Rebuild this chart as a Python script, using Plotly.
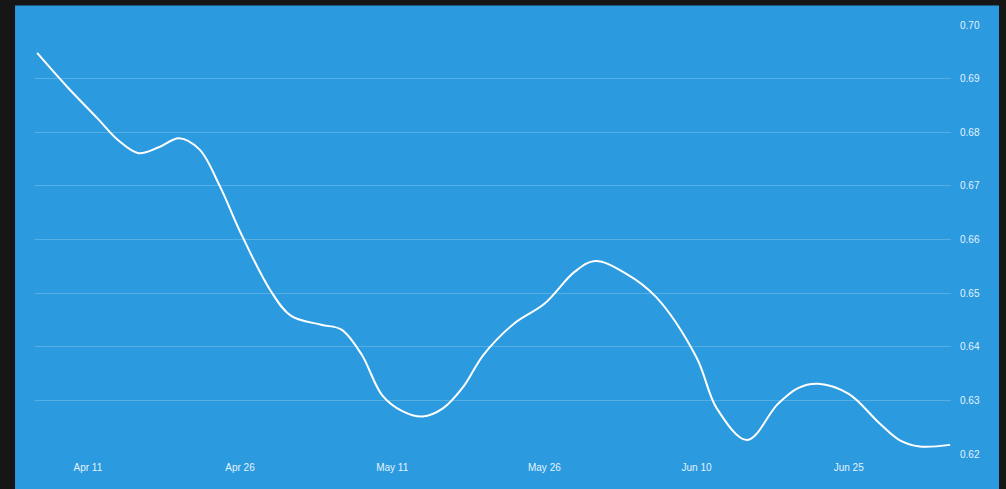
import plotly.graph_objects as go

dates = ["2024-04-06", "2024-04-09", "2024-04-12", "2024-04-14", "2024-04-16", "2024-04-18",
         "2024-04-20", "2024-04-22", "2024-04-24", "2024-04-26", "2024-04-29", "2024-05-01",
         "2024-05-04", "2024-05-06", "2024-05-08", "2024-05-10", "2024-05-12", "2024-05-14",
         "2024-05-16", "2024-05-18", "2024-05-20", "2024-05-23", "2024-05-26", "2024-05-29",
         "2024-05-31", "2024-06-03", "2024-06-06", "2024-06-10", "2024-06-12", "2024-06-15",
         "2024-06-18", "2024-06-20", "2024-06-22", "2024-06-25", "2024-06-28", "2024-06-30",
         "2024-07-02", "2024-07-05"]
values = [0.6948, 0.6884, 0.6825, 0.6785, 0.6761, 0.6772,
          0.6789, 0.6768, 0.6700, 0.6615, 0.6505, 0.6458,
          0.6441, 0.6432, 0.6385, 0.6310, 0.6280, 0.6270,
          0.6285, 0.6325, 0.6385, 0.6443, 0.6480, 0.6540,
          0.6560, 0.6537, 0.6493, 0.6380, 0.6285, 0.6226,
          0.6293, 0.6323, 0.6331, 0.6312, 0.6258, 0.6226,
          0.6214, 0.6217]

x_tick_vals = ["2024-04-11", "2024-04-26", "2024-05-11", "2024-05-26", "2024-06-10", "2024-06-25"]
x_tick_text = ["Apr 11", "Apr 26", "May 11", "May 26", "Jun 10", "Jun 25"]
y_tick_vals = [0.62, 0.63, 0.64, 0.65, 0.66, 0.67, 0.68, 0.69, 0.70]

BLUE = "#2b9ade"
LABEL = "#e4f2ff"
GRID = "rgba(255,255,255,0.20)"

fig = go.Figure()
fig.add_trace(go.Scatter(
    x=dates, y=values, mode="lines",
    line=dict(color="white", width=2, shape="spline", smoothing=1.0),
    hoverinfo="skip", showlegend=False,
))

fig.add_shape(type="rect", xref="paper", yref="paper",
              x0=-0.0218, x1=1.0524, y0=-0.12, y1=1.0456,
              fillcolor=BLUE, line=dict(width=0), layer="below")

fig.update_layout(
    width=1006, height=489,
    margin=dict(l=35, r=55, t=25, b=35),
    paper_bgcolor="#161616",
    plot_bgcolor=BLUE,
    font=dict(family="Liberation Sans, Arial, sans-serif", size=10, color=LABEL),
    showlegend=False,
)
fig.update_xaxes(
    range=["2024-04-05 19:00", "2024-07-05 02:00"],
    tickmode="array", tickvals=x_tick_vals, ticktext=x_tick_text,
    showgrid=False, zeroline=False, showline=False,
    ticks="outside", ticklen=4, tickcolor="rgba(0,0,0,0)",
    tickfont=dict(size=10, color=LABEL),
)
fig.update_yaxes(
    range=[0.62, 0.70], side="right",
    tickmode="array", tickvals=y_tick_vals, tickformat=".2f",
    showgrid=True, gridcolor=GRID, gridwidth=1,
    zeroline=False, showline=False,
    ticks="outside", ticklen=6, tickcolor="rgba(0,0,0,0)",
    tickfont=dict(size=10, color=LABEL),
)

fig.write_html("out.html")
